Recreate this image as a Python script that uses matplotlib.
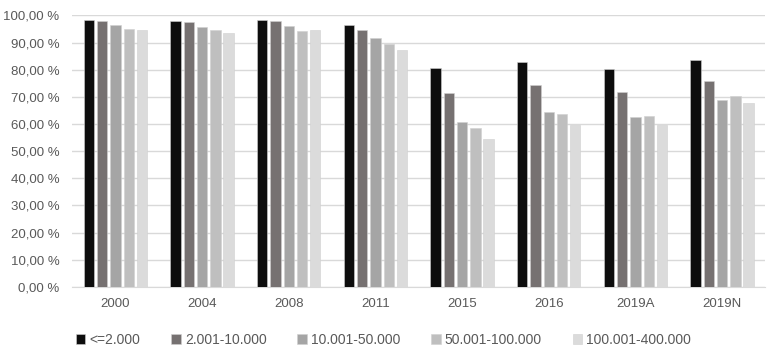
import numpy as np
import matplotlib
matplotlib.use("Agg")
import matplotlib.pyplot as plt
from matplotlib.ticker import FuncFormatter

plt.rcParams['font.family'] = ['Liberation Sans', 'DejaVu Sans']

years = ['2000', '2004', '2008', '2011', '2015', '2016', '2019A', '2019N']
groups = ['<=2.000', '2.001-10.000', '10.001-50.000', '50.001-100.000', '100.001-400.000']

# one list per size class, one value per year (percent)
g1 = [98.3, 97.9, 98.3, 96.4, 80.6, 82.7, 80.1, 83.4]
g2 = [97.9, 97.4, 97.9, 94.6, 71.3, 74.2, 71.7, 76.0]
g3 = [96.4, 95.6, 96.1, 91.7, 60.6, 64.3, 62.4, 69.0]
g4 = [95.0, 94.6, 94.2, 89.5, 58.4, 63.7, 62.9, 70.4]
g5 = [94.6, 93.7, 94.6, 87.2, 54.5, 59.8, 59.8, 67.6]

colors = ['#0d0d0d', '#767171', '#a5a5a5', '#bfbfbf', '#dbdbdb']
txt = '#595959'

fig = plt.figure(figsize=(7.67, 3.59), dpi=100)
ax = fig.add_axes([0.094, 0.201, 0.904, 0.756])

x = np.arange(len(years))
slot = 0.153
w = 0.119
for i, (vals, name) in enumerate(zip([g1, g2, g3, g4, g5], groups)):
    ax.bar(x + (i - 2) * slot, vals, width=w, color=colors[i], label=name,
           edgecolor='#d0d0d0', linewidth=0.4, zorder=3)

ax.set_xlim(-0.5, len(years) - 0.5)
ax.set_ylim(0, 100)
ax.set_yticks(np.arange(0, 101, 10))
ax.yaxis.set_major_formatter(FuncFormatter(lambda v, p: f"{v:.2f}".replace('.', ',') + " %"))
ax.set_xticks(x)
ax.set_xticklabels(years)
ax.grid(axis='y', color='#d9d9d9', linewidth=1, zorder=0)
for s in ['top', 'right', 'left']:
    ax.spines[s].set_visible(False)
ax.spines['bottom'].set_color('#d9d9d9')
ax.tick_params(axis='both', length=0, labelsize=9.5, colors=txt)
ax.tick_params(axis='x', pad=8)
ax.tick_params(axis='y', pad=9)

fig.legend(loc='lower center', ncol=5, bbox_to_anchor=(0.5, 0.0), frameon=False,
           fontsize=10, labelcolor=txt, handlelength=0.7, handleheight=0.7,
           handletextpad=0.3, columnspacing=2.2)

fig.savefig('out.png', dpi=100)
